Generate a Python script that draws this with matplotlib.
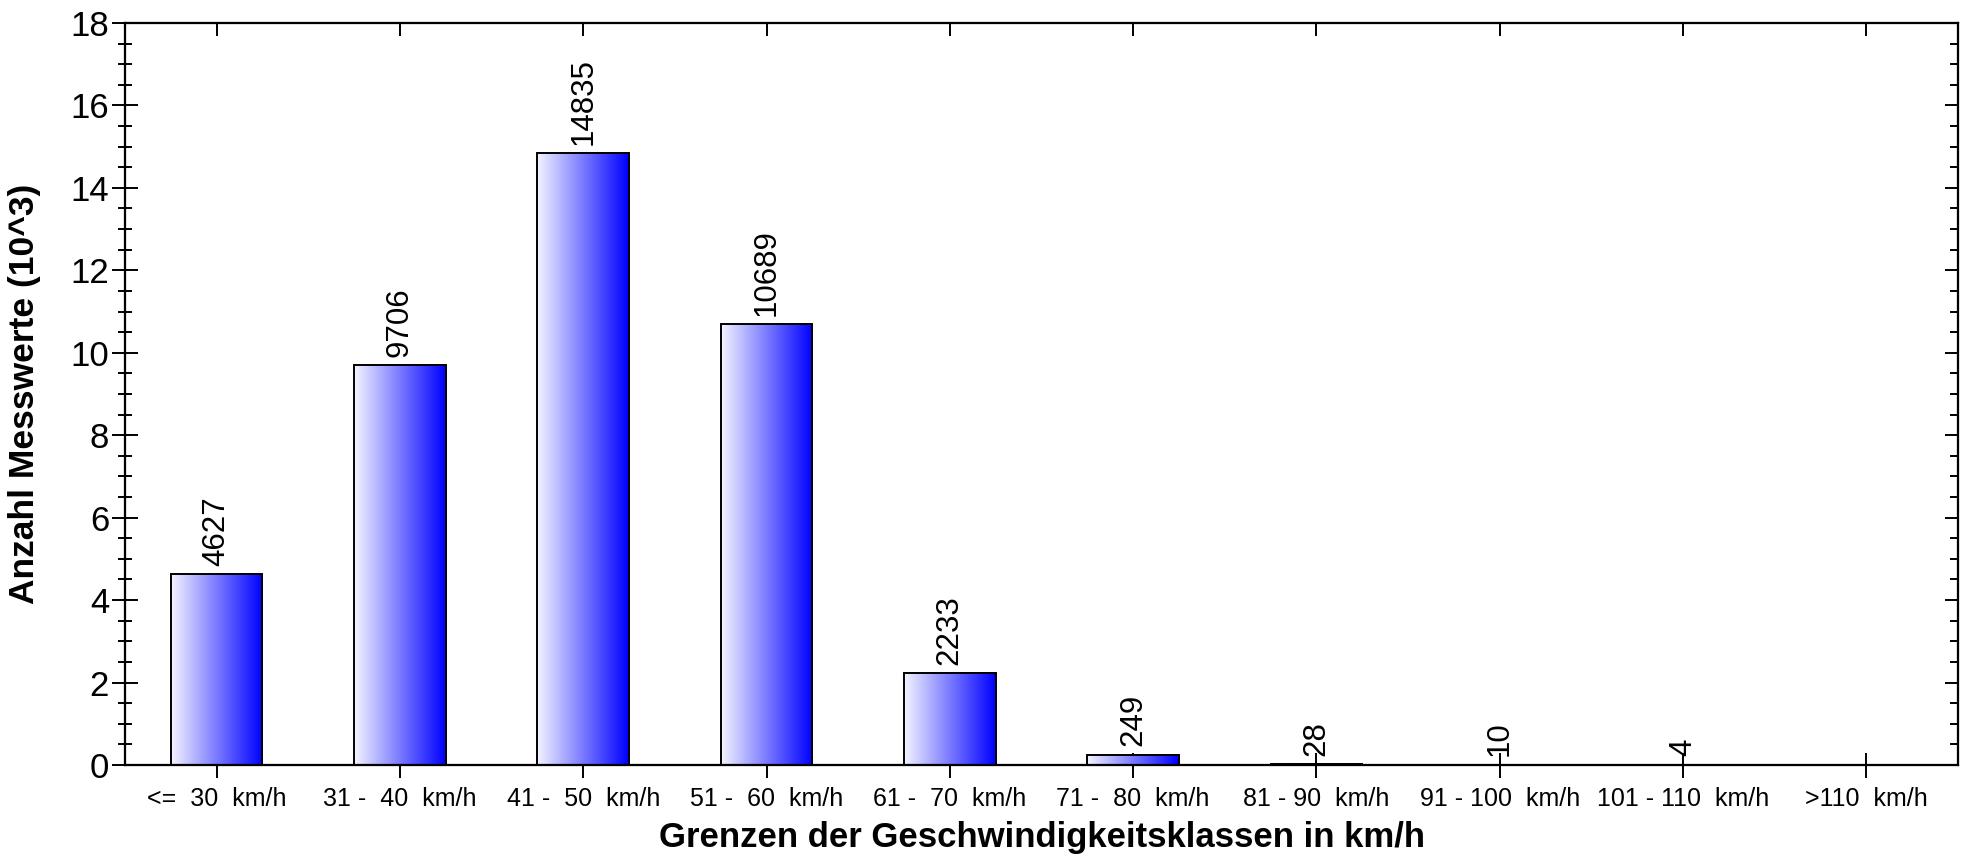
import numpy as np
import matplotlib
matplotlib.use("Agg")
import matplotlib.pyplot as plt
from matplotlib.colors import LinearSegmentedColormap

plt.rcParams['font.family'] = ['Liberation Sans', 'DejaVu Sans']

# speed classes and counts
classes = ["<=  30  km/h", "31 -  40  km/h", "41 -  50  km/h", "51 -  60  km/h",
           "61 -  70  km/h", "71 -  80  km/h", "81 - 90  km/h", "91 - 100  km/h",
           "101 - 110  km/h", ">110  km/h"]
counts = [4627, 9706, 14835, 10689, 2233, 249, 28, 10, 4, 0]
shown = [True] * 9 + [False]   # no label on the last class

values = np.array(counts) / 1000.0
x = np.arange(len(classes))

fig = plt.figure(figsize=(19.62, 8.58), dpi=100)
ax = fig.add_axes([0.0637, 0.1084, 0.9343, 0.8648])

bars = ax.bar(x, values, width=0.5, facecolor='none', edgecolor='black',
              linewidth=1.4, zorder=3)

# horizontal gradient white -> blue inside each bar
cmap = LinearSegmentedColormap.from_list("wb", ["#f4f4ff", "#0000ff"])
grad = np.linspace(0, 1, 256).reshape(1, -1)
for b in bars:
    if b.get_height() <= 0:
        continue
    x0, w, h = b.get_x(), b.get_width(), b.get_height()
    ax.imshow(grad, cmap=cmap, aspect='auto', extent=(x0, x0 + w, 0, h),
              zorder=2, interpolation='bicubic')

for b, c, s in zip(bars, counts, shown):
    if not s:
        continue
    ax.annotate(str(c), (b.get_x() + b.get_width() / 2, b.get_height()),
                xytext=(0, 6), textcoords='offset points', rotation=90,
                ha='center', va='bottom', fontsize=22.5, zorder=5)

ax.set_xlim(-0.5, len(classes) - 0.5)
ax.set_ylim(0, 18)
ax.set_xticks(x)
ax.set_xticklabels(classes, fontsize=18)
ax.set_yticks(np.arange(0, 19, 2))
ax.set_yticks(np.arange(0, 18.1, 0.5), minor=True)
ax.tick_params(axis='y', which='major', direction='inout', length=19, width=1.4,
               labelsize=25, pad=2)
ax.tick_params(axis='y', which='minor', direction='inout', length=10, width=1.4)
ax.tick_params(axis='x', which='major', direction='inout', length=18, width=1.4,
               pad=7)
ax.set_axisbelow(True)
for sp in ax.spines.values():
    sp.set_linewidth(1.5)
    sp.set_zorder(4)

ax.set_xlabel("Grenzen der Geschwindigkeitsklassen in km/h", fontsize=25,
              fontweight='bold', labelpad=7)
ax.set_ylabel("Anzahl Messwerte (10^3)", fontsize=25.5, fontweight='bold')
ax.yaxis.set_label_coords(-0.0458, 0.5)

# right and top: inward ticks only
ax_r = ax.twinx()
ax_r.set_ylim(ax.get_ylim())
ax_r.set_yticks(np.arange(0, 19, 2))
ax_r.set_yticks(np.arange(0, 18.1, 0.5), minor=True)
ax_r.tick_params(axis='y', which='major', direction='in', length=9.5, width=1.4,
                 labelright=False)
ax_r.tick_params(axis='y', which='minor', direction='in', length=5.5, width=1.4)

ax_t = ax.twiny()
ax_t.set_xlim(ax.get_xlim())
ax_t.set_xticks(x)
ax_t.tick_params(axis='x', which='major', direction='in', length=9.5, width=1.4,
                 labeltop=False)
for a in (ax_r, ax_t):
    for sp in a.spines.values():
        sp.set_linewidth(1.5)

fig.savefig("out.png", dpi=100)
